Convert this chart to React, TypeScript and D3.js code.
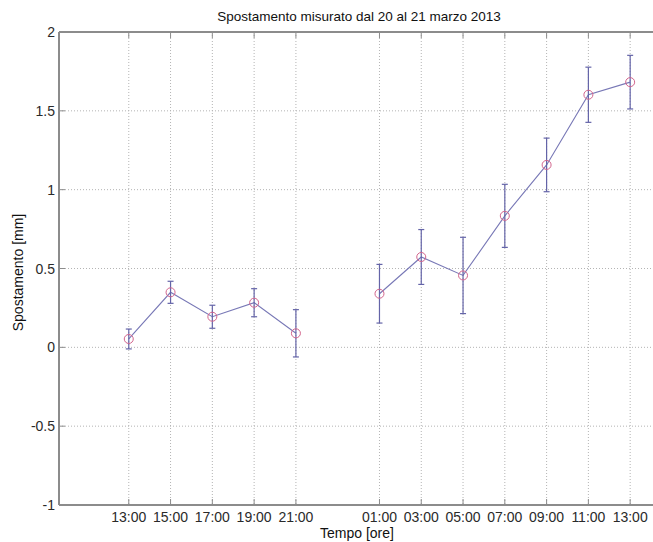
import React from "react";
import * as d3 from "d3";

// hours since 20 March 2013 00:00
const hours = [13, 15, 17, 19, 21, 25, 27, 29, 31, 33, 35, 37];
const displacement = [0.053, 0.349, 0.194, 0.283, 0.089, 0.34, 0.573, 0.456, 0.834, 1.157, 1.602, 1.682];
const errors = [0.063, 0.07, 0.073, 0.089, 0.15, 0.186, 0.174, 0.242, 0.2, 0.17, 0.175, 0.17];
const segment = [0, 0, 0, 0, 0, 1, 1, 1, 1, 1, 1, 1];
const xTicks = [13, 15, 17, 19, 21, 25, 27, 29, 31, 33, 35, 37];
const xTickLabels = ["13:00", "15:00", "17:00", "19:00", "21:00", "01:00", "03:00", "05:00", "07:00", "09:00", "11:00", "13:00"];
const yTicks = [-1, -0.5, 0, 0.5, 1, 1.5, 2];
const yTickLabels = ["-1", "-0.5", "0", "0.5", "1", "1.5", "2"];
const title = "Spostamento misurato dal 20 al 21 marzo 2013";
const xLabel = "Tempo [ore]";
const yLabel = "Spostamento [mm]";

const W = 653;
const H = 542;
const L = 59;
const R = 659;
const T = 32;
const B = 505;
const FONT = "'Liberation Sans', Arial, Helvetica, sans-serif";

export default function App() {
  const x = d3.scaleLinear().domain([9.66, 38.38]).range([L, R]);
  const y = d3.scaleLinear().domain([-1, 2]).range([B, T]);

  const pts = hours.map((h, i) => ({ h, v: displacement[i], e: errors[i], s: segment[i] }));
  const segs = d3.groups(pts, (d) => d.s).map((g) => g[1]);
  const line = d3
    .line<{ h: number; v: number }>()
    .x((d) => x(d.h))
    .y((d) => y(d.v));

  const axisColor = "#8c8c8c";
  const gridColor = "#b4b4b4";
  const tickLen = 6;

  return (
    <svg
      width={W}
      height={H}
      style={{ position: "absolute", left: 0, top: 0, background: "#fff" }}
      fontFamily={FONT}
    >
      <rect x={0} y={0} width={W} height={H} fill="#fff" />
      {/* grid */}
      {xTicks.map((t, i) => (
        <line key={"gx" + i} x1={x(t)} x2={x(t)} y1={T} y2={B} stroke={gridColor} strokeWidth={1} strokeDasharray="1,2" />
      ))}
      {yTicks.slice(1, -1).map((t, i) => (
        <line key={"gy" + i} x1={L} x2={R} y1={y(t)} y2={y(t)} stroke={gridColor} strokeWidth={1} strokeDasharray="1,2" />
      ))}
      {/* axes border */}
      <line x1={L} x2={R} y1={T} y2={T} stroke={axisColor} strokeWidth={2} />
      <line x1={L} x2={R} y1={B} y2={B} stroke={axisColor} strokeWidth={2} />
      <line x1={L} x2={L} y1={T} y2={B} stroke={axisColor} strokeWidth={2} />
      {/* ticks */}
      {xTicks.map((t, i) => (
        <g key={"tx" + i}>
          <line x1={x(t)} x2={x(t)} y1={B} y2={B - tickLen} stroke={axisColor} strokeWidth={1} />
          <line x1={x(t)} x2={x(t)} y1={T} y2={T + tickLen} stroke={axisColor} strokeWidth={1} />
          <text x={x(t)} y={522} textAnchor="middle" fontSize={14} fill="#2a2a2a">
            {xTickLabels[i]}
          </text>
        </g>
      ))}
      {yTicks.map((t, i) => (
        <g key={"ty" + i}>
          <line x1={L} x2={L + tickLen} y1={y(t)} y2={y(t)} stroke={axisColor} strokeWidth={1} />
          <text x={55} y={y(t) + 5} textAnchor="end" fontSize={14} fill="#2a2a2a">
            {yTickLabels[i]}
          </text>
        </g>
      ))}
      {/* connecting lines */}
      {segs.map((s, i) => (
        <path key={"ln" + i} d={line(s) || ""} fill="none" stroke="#7878b6" strokeWidth={1.1} />
      ))}
      {/* error bars */}
      {pts.map((d, i) => (
        <g key={"eb" + i} stroke="#6464a8" strokeWidth={1.2}>
          <line x1={x(d.h)} x2={x(d.h)} y1={y(d.v - d.e)} y2={y(d.v + d.e)} />
          <line x1={x(d.h) - 3} x2={x(d.h) + 3} y1={y(d.v + d.e)} y2={y(d.v + d.e)} />
          <line x1={x(d.h) - 3} x2={x(d.h) + 3} y1={y(d.v - d.e)} y2={y(d.v - d.e)} />
        </g>
      ))}
      {/* markers */}
      {pts.map((d, i) => (
        <circle key={"pt" + i} cx={x(d.h)} cy={y(d.v)} r={4.5} fill="none" stroke="#d2648c" strokeWidth={1} />
      ))}
      {/* labels */}
      <text x={(L + R) / 2} y={21} textAnchor="middle" fontSize={13.5} fill="#111">
        {title}
      </text>
      <text x={357} y={538} textAnchor="middle" fontSize={14} fill="#111">
        {xLabel}
      </text>
      <text transform={`translate(23,${(T + B) / 2 + 4}) rotate(-90)`} textAnchor="middle" fontSize={14} fill="#111">
        {yLabel}
      </text>
    </svg>
  );
}
